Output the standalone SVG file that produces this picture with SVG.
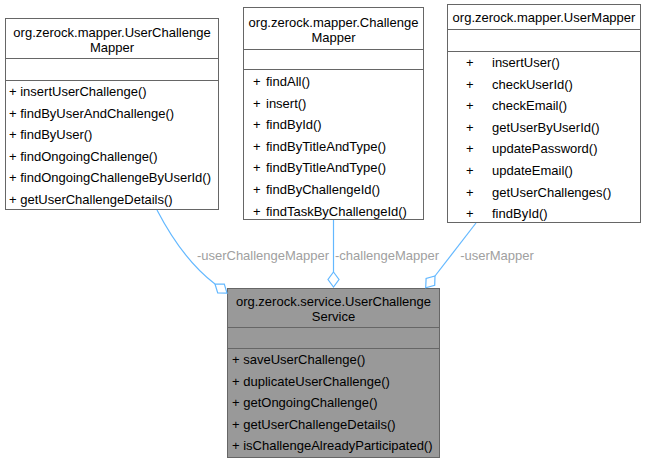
<svg xmlns="http://www.w3.org/2000/svg" width="647" height="464" viewBox="0 0 647 464">
<style>
text{font-family:"Liberation Sans",Arial,sans-serif;font-size:13px;fill:#000}
.c{text-anchor:middle}
.box{fill:#fff;stroke:#666;stroke-width:1}
.main{fill:#999;stroke:#666;stroke-width:1}
.div{stroke:#666;stroke-width:1}
.edge{fill:none;stroke:#63b8ff;stroke-width:1.2}
.dia{fill:#fff;stroke:#63b8ff;stroke-width:1.2}
.lbl{fill:#a0a0a0;text-anchor:middle}
</style>
<g id="UserChallengeMapper">
<rect class="box" x="5.5" y="18.5" width="213" height="191"/>
<line class="div" x1="5.5" y1="58.5" x2="218.5" y2="58.5"/>
<line class="div" x1="5.5" y1="80.5" x2="218.5" y2="80.5"/>
<text class="c" x="112" y="36.5">org.zerock.mapper.UserChallenge</text>
<text class="c" x="112" y="51.5">Mapper</text>
<text x="9" y="96">+ insertUserChallenge()</text>
<text x="9" y="117.6">+ findByUserAndChallenge()</text>
<text x="9" y="139.2">+ findByUser()</text>
<text x="9" y="160.8">+ findOngoingChallenge()</text>
<text x="9" y="182.4">+ findOngoingChallengeByUserId()</text>
<text x="9" y="204">+ getUserChallengeDetails()</text>
</g>
<g id="ChallengeMapper">
<rect class="box" x="243.5" y="7.5" width="180" height="212"/>
<line class="div" x1="243.5" y1="49.5" x2="423.5" y2="49.5"/>
<line class="div" x1="243.5" y1="69.5" x2="423.5" y2="69.5"/>
<text class="c" x="333.5" y="26.5">org.zerock.mapper.Challenge</text>
<text class="c" x="333.5" y="41.5">Mapper</text>
<g>
<text x="253" y="86">+</text><text x="266" y="86">findAll()</text>
<text x="253" y="107.6">+</text><text x="266" y="107.6">insert()</text>
<text x="253" y="129.2">+</text><text x="266" y="129.2">findById()</text>
<text x="253" y="150.8">+</text><text x="266" y="150.8">findByTitleAndType()</text>
<text x="253" y="172.4">+</text><text x="266" y="172.4">findByTitleAndType()</text>
<text x="253" y="194">+</text><text x="266" y="194">findByChallengeId()</text>
<text x="253" y="215.6">+</text><text x="266" y="215.6">findTaskByChallengeId()</text>
</g>
</g>
<g id="UserMapper">
<rect class="box" x="447.5" y="4.5" width="193" height="218"/>
<line class="div" x1="447.5" y1="29.5" x2="640.5" y2="29.5"/>
<line class="div" x1="447.5" y1="51.5" x2="640.5" y2="51.5"/>
<text class="c" x="544" y="21.5">org.zerock.mapper.UserMapper</text>
<text x="466" y="67">+</text><text x="492" y="67">insertUser()</text>
<text x="466" y="88.6">+</text><text x="492" y="88.6">checkUserId()</text>
<text x="466" y="110.2">+</text><text x="492" y="110.2">checkEmail()</text>
<text x="466" y="131.8">+</text><text x="492" y="131.8">getUserByUserId()</text>
<text x="466" y="153.4">+</text><text x="492" y="153.4">updatePassword()</text>
<text x="466" y="175">+</text><text x="492" y="175">updateEmail()</text>
<text x="466" y="196.6">+</text><text x="492" y="196.6">getUserChallenges()</text>
<text x="466" y="218.2">+</text><text x="492" y="218.2">findById()</text>
</g>
<g id="UserChallengeService">
<rect class="main" x="227.5" y="288.5" width="212" height="169"/>
<line class="div" x1="227.5" y1="327.5" x2="439.5" y2="327.5"/>
<line class="div" x1="227.5" y1="348.5" x2="439.5" y2="348.5"/>
<text class="c" x="333.5" y="306">org.zerock.service.UserChallenge</text>
<text class="c" x="333.5" y="321">Service</text>
<text x="232" y="364">+ saveUserChallenge()</text>
<text x="232" y="385.6">+ duplicateUserChallenge()</text>
<text x="232" y="407.2">+ getOngoingChallenge()</text>
<text x="232" y="428.8">+ getUserChallengeDetails()</text>
<text x="232" y="450.4">+ isChallengeAlreadyParticipated()</text>
</g>
<g id="connectors">
<path class="edge" d="M157,210 C170,235 190,265 215,284"/>
<polygon class="dia" points="215,284 224.3,284.1 227,293.1 217.7,292.9"/>
<text class="lbl" x="263" y="260">-userChallengeMapper</text>
<path class="edge" d="M333.5,220 L333.5,272"/>
<polygon class="dia" points="333.5,272 339,279.5 333.5,287 328,279.5"/>
<text class="lbl" x="387" y="260">-challengeMapper</text>
<path class="edge" d="M476,223 L435,276"/>
<polygon class="dia" points="435,276 434.7,285.3 425.7,287.8 426.1,278.5"/>
<text class="lbl" x="497" y="260">-userMapper</text>
</g>
</svg>
